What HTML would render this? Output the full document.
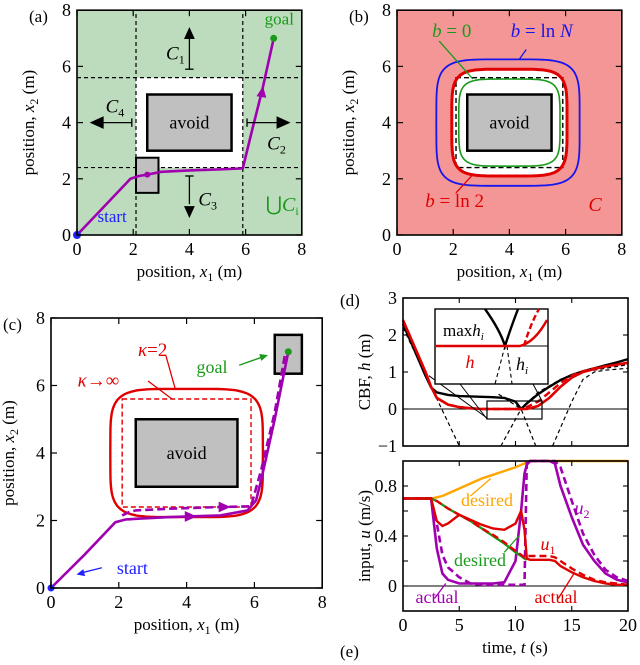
<!DOCTYPE html>
<html><head><meta charset="utf-8"><style>
html,body{margin:0;padding:0;background:#fff;}
svg{display:block;font-family:"Liberation Serif","DejaVu Serif",serif;}
svg text{font-family:"Liberation Serif","DejaVu Serif",serif;}
</style></head><body>
<svg id="fig" width="640" height="665" viewBox="0 0 640 665" xmlns="http://www.w3.org/2000/svg"></svg>
<script>
// ---------- data ----------
const ticks8=[0,2,4,6,8];
const pathA_x=[0,1.0,1.9,2.2,2.5,3.0,4.0,5.0,5.9,6.2,6.6,7.0];
const pathA_y=[0,1.05,2.0,2.1,2.15,2.25,2.3,2.33,2.37,3.6,5.2,7.0];
const pathC_x=[0,1.0,1.9,2.2,2.5,3.5,5.0,5.8,6.05,6.2,6.6,7.0];
const pathC_y=[0,1.0,1.95,2.03,2.05,2.1,2.15,2.3,2.6,3.2,5.0,7.0];
const pathCd_x=[2.1,2.3,2.5,3.5,5.0,5.9,6.2,6.6,6.9];
const pathCd_y=[2.15,2.25,2.3,2.35,2.4,2.42,3.5,5.2,6.9];
// panel d
const tD=[0,1,2,2.5,3,4,5,6,7,8,9,10,10.5,11,12,13,14,15,16,17,18,19,20];
const hMax=[2.3,1.6,0.9,0.58,0.45,0.38,0.35,0.34,0.33,0.32,0.3,0.2,0.0,0.15,0.4,0.6,0.78,0.92,1.02,1.1,1.18,1.26,1.35];
const hRed=[2.4,1.7,1.0,0.6,0.3,0.12,0.05,0.02,0.0,0.0,0.0,0.0,0.0,0.0,0.08,0.3,0.6,0.85,1.0,1.08,1.15,1.2,1.25];
const hRedD=[2.4,1.7,1.0,0.6,0.3,0.12,0.05,0.02,0.0,0.0,0.0,0.0,0.0,0.05,0.2,0.45,0.7,0.9,1.02,1.1,1.15,1.2,1.25];
const hi1_t=[0,5.0], hi1_v=[2.2,-1];
const hi2_t=[8.7,10.5,12,14,16,18,20], hi2_v=[-1,0,0.45,0.8,1.0,1.1,1.2];
const hi3_t=[8.5,10.5,11.8], hi3_v=[0.4,0,-1];
const hi4_t=[13.3,15,16,17,18,20], hi4_v=[-1,0.2,0.8,1.0,1.05,1.1];
// panel e
const tE=[0,2.5,3,3.5,4,5,6,7,8,9,10,10.5,10.8,11,11.3,12,13,13.5,14,15,16,17,18,19,20];
const u2des=[0.7,0.7,0.71,0.72,0.74,0.78,0.82,0.86,0.89,0.92,0.95,0.97,0.98,0.99,1.0,1.0,1.0,1.0,1.0,1.0,1.0,1.0,1.0,1.0,1.0];
const u1des=[0.7,0.7,0.68,0.65,0.62,0.57,0.52,0.46,0.4,0.34,0.27,0.24,0.22,0.21,0.21,0.21,0.21,0.21,0.21,0.21,0.21,0.21,0.21,0.21,0.21];
const u1act=[0.7,0.7,0.52,0.48,0.5,0.57,0.53,0.49,0.46,0.45,0.5,0.6,0.45,0.22,0.21,0.21,0.21,0.2,0.16,0.11,0.07,0.04,0.02,0.01,0.01];
const u1actD=[0.7,0.7,0.68,0.65,0.62,0.57,0.52,0.46,0.41,0.35,0.28,0.25,0.23,0.24,0.24,0.24,0.24,0.23,0.2,0.14,0.09,0.05,0.03,0.02,0.01];
const u2act=[0.7,0.7,0.3,0.1,0.05,0.02,0.02,0.02,0.02,0.03,0.2,0.6,0.9,0.97,1.0,1.0,1.0,0.98,0.8,0.55,0.33,0.2,0.1,0.05,0.03];
const u2actD=[0.7,0.7,0.5,0.25,0.15,0.07,0.02,0.01,0.01,0.01,0.01,0.01,0.01,1.0,1.0,1.0,1.0,1.0,0.95,0.68,0.42,0.25,0.13,0.07,0.04];

// ---------- helpers ----------
const NS="http://www.w3.org/2000/svg";
const svg=document.getElementById('fig');
function el(tag,attrs,parent){const e=document.createElementNS(NS,tag);for(const k in attrs)e.setAttribute(k,attrs[k]);(parent||svg).appendChild(e);return e;}
function txt(x,y,s,size,fill,anchor,extra){const t=el('text',Object.assign({x:x,y:y,'font-size':size,fill:fill||'#000','text-anchor':anchor||'middle','font-family':'Liberation Serif, DejaVu Serif, serif'},extra||{}));t.innerHTML=s;return t;}
function poly(xs,ys,X,Y){return xs.map((v,i)=>(i?'L':'M')+X(v).toFixed(1)+','+Y(ys[i]).toFixed(1)).join('');}
function superE(cx,cy,a,b,n,X,Y){let d='';for(let i=0;i<=120;i++){const th=i/120*2*Math.PI;const c=Math.cos(th),s=Math.sin(th);const x=cx+a*Math.sign(c)*Math.pow(Math.abs(c),2/n);const y=cy+b*Math.sign(s)*Math.pow(Math.abs(s),2/n);d+=(i?'L':'M')+X(x).toFixed(1)+','+Y(y).toFixed(1);}return d+'Z';}
function frame(x0,y0,x1,y1,name){const r=el('rect',{x:x0,y:y0,width:x1-x0,height:y1-y0,fill:'none',stroke:'#000','stroke-width':1.6});}
function posAxes(X,Y,x0,y0,x1,y1,lbl,xlab,ylabX){
  ticks8.forEach(v=>{
    el('line',{x1:X(v),y1:y1,x2:X(v),y2:y1-6,stroke:'#000','stroke-width':1.2});
    el('line',{x1:X(v),y1:y0,x2:X(v),y2:y0+6,stroke:'#000','stroke-width':1.2});
    el('line',{x1:x0,y1:Y(v),x2:x0+6,y2:Y(v),stroke:'#000','stroke-width':1.2});
    el('line',{x1:x1,y1:Y(v),x2:x1-6,y2:Y(v),stroke:'#000','stroke-width':1.2});
    const a=txt(X(v),y1+20,String(v),18);
    const b=txt(x0-6,Y(v)+6,String(v),18,'#000','end');
  });
  frame(x0,y0,x1,y1,'plot-frame');
  if(xlab){const t=txt((x0+x1)/2,y1+42,'position, <tspan font-style="italic">x</tspan><tspan font-size="12" dy="4">1</tspan><tspan dy="-4"> (m)</tspan>',17);}
  const cy=(y0+y1)/2;const t=txt(ylabX,cy,'position, <tspan font-style="italic">x</tspan><tspan font-size="12" dy="4">2</tspan><tspan dy="-4"> (m)</tspan>',17,'#000','middle',{transform:`rotate(-90 ${ylabX} ${cy})`});
  const p=txt(x0-48,y0+12,lbl,17,'#000','start');
}
function arrowHead(x,y,ang,size,color){const s=size||8;const a=ang;const p=[[x,y],[x-s*Math.cos(a)+s*0.45*Math.sin(a),y-s*Math.sin(a)-s*0.45*Math.cos(a)],[x-s*Math.cos(a)-s*0.45*Math.sin(a),y-s*Math.sin(a)+s*0.45*Math.cos(a)]];return el('polygon',{points:p.map(q=>q.join(',')).join(' '),fill:color||'#000'});}

// ================= Panel (a) =================
{
const X=v=>77+v*28.1, Y=v=>235-v*28.1;
const g=el('g',{});
el('rect',{x:X(0),y:Y(8),width:X(8)-X(0),height:Y(0)-Y(8),fill:'#bddcbd'},g);
el('rect',{x:X(2.1),y:Y(5.6),width:X(5.9)-X(2.1),height:Y(2.4)-Y(5.6),fill:'#fff'},g);
[2.1,5.9].forEach(v=>el('line',{x1:X(v),y1:Y(0),x2:X(v),y2:Y(8),stroke:'#000','stroke-width':1.2,'stroke-dasharray':'4,3'},g));
[2.4,5.6].forEach(v=>el('line',{x1:X(0),y1:Y(v),x2:X(8),y2:Y(v),stroke:'#000','stroke-width':1.2,'stroke-dasharray':'4,3'},g));
const av=el('rect',{x:X(2.5),y:Y(5),width:X(5.5)-X(2.5),height:Y(3)-Y(5),fill:'#c0c0c0',stroke:'#000','stroke-width':2.5},g);
txt(X(4),Y(4)+6,'avoid',18);
el('rect',{x:X(2.1),y:Y(2.75),width:X(2.9)-X(2.1),height:Y(1.5)-Y(2.75),fill:'#c0c0c0',stroke:'#000','stroke-width':2},g);
el('line',{x1:X(4),y1:Y(5.9),x2:X(4),y2:Y(7.0),stroke:'#000','stroke-width':1.3});arrowHead(X(4),Y(7.4),-Math.PI/2,12);
el('line',{x1:X(3.85),y1:Y(5.9),x2:X(4.15),y2:Y(5.9),stroke:'#000','stroke-width':1.3});
el('line',{x1:X(6.05),y1:Y(4),x2:X(7.1),y2:Y(4),stroke:'#000','stroke-width':1.3});arrowHead(X(7.6),Y(4),0,14);
el('line',{x1:X(6.05),y1:Y(4.15),x2:X(6.05),y2:Y(3.85),stroke:'#000','stroke-width':1.3});
el('line',{x1:X(4),y1:Y(2.1),x2:X(4),y2:Y(1.1),stroke:'#000','stroke-width':1.3});arrowHead(X(4),Y(0.6),Math.PI/2,12);
el('line',{x1:X(3.85),y1:Y(2.1),x2:X(4.15),y2:Y(2.1),stroke:'#000','stroke-width':1.3});
el('line',{x1:X(1.95),y1:Y(4),x2:X(0.9),y2:Y(4),stroke:'#000','stroke-width':1.3});arrowHead(X(0.45),Y(4),Math.PI,14);
el('line',{x1:X(1.95),y1:Y(4.15),x2:X(1.95),y2:Y(3.85),stroke:'#000','stroke-width':1.3});
const cl=(x,y,s)=>txt(x,y,'<tspan font-style="italic">C</tspan><tspan font-size="12" dy="4">'+s+'</tspan>',19);
cl(X(3.5),Y(6.5)+7,'1');cl(X(7.1),Y(3.3)+7,'2');cl(X(4.65),Y(1.3)+7,'3');cl(X(1.35),Y(4.6)+7,'4');
txt(X(7.3),Y(1.1)+7,'⋃<tspan font-style="italic">C</tspan><tspan font-size="12" dy="4">i</tspan>',20,'#1a9a1a');
const p=el('path',{d:poly(pathA_x,pathA_y,X,Y),fill:'none',stroke:'#a000b0','stroke-width':2.6},g);
arrowHead(X(6.62),Y(5.3),-1.42,11,'#a000b0');
el('circle',{cx:X(2.5),cy:Y(2.15),r:3,fill:'#a000b0'});
el('circle',{cx:X(0),cy:Y(0),r:4,fill:'#2020ff'});
el('circle',{cx:X(7),cy:Y(7),r:3.5,fill:'#1a9a1a'});
txt(X(7.2),Y(7.35)-4,'goal',17,'#1a9a1a');
txt(X(1.25),Y(0.6)+4,'start',17,'#2020ff');
posAxes(X,Y,X(0),Y(8),X(8),Y(0),'(a)',true,34);
}

// ================= Panel (b) =================
{
const X=v=>397+v*28.1, Y=v=>235-v*28.1;
el('rect',{x:X(0),y:Y(8),width:X(8)-X(0),height:Y(0)-Y(8),fill:'#f59696'});
el('path',{d:superE(4,4,2.05,1.9,5,X,Y),fill:'#fff'});
const bl=el('path',{d:superE(3.95,4,2.55,2.25,5,X,Y),fill:'none',stroke:'#1515ee','stroke-width':1.8});
el('rect',{x:X(2.1),y:Y(5.6),width:X(5.9)-X(2.1),height:Y(2.4)-Y(5.6),fill:'none',stroke:'#000','stroke-width':1.4,'stroke-dasharray':'5,3'});
const rd=el('path',{d:superE(4,4,2.05,1.9,5,X,Y),fill:'none',stroke:'#e00000','stroke-width':3});
const gr=el('path',{d:superE(4,4,1.8,1.55,5,X,Y),fill:'none',stroke:'#1a9a1a','stroke-width':1.6});
el('rect',{x:X(2.5),y:Y(5),width:X(5.5)-X(2.5),height:Y(3)-Y(5),fill:'#c0c0c0',stroke:'#000','stroke-width':2.5});
txt(X(4),Y(4)+6,'avoid',18);
el('line',{x1:X(1.5),y1:Y(6.9),x2:X(2.7),y2:Y(5.55),stroke:'#1a9a1a','stroke-width':1.3});
el('line',{x1:X(4.6),y1:Y(6.6),x2:X(4.35),y2:Y(6.25),stroke:'#1515ee','stroke-width':1.3});
el('line',{x1:X(2.1),y1:Y(1.5),x2:X(2.7),y2:Y(2.15),stroke:'#e00000','stroke-width':1.3});
txt(X(1.95),Y(7.05),'<tspan font-style="italic">b</tspan> = 0',19,'#1a9a1a');
txt(X(5.15),Y(7.05),'<tspan font-style="italic">b</tspan> = ln <tspan font-style="italic">N</tspan>',19,'#1515ee');
txt(X(2.05),Y(1.0),'<tspan font-style="italic">b</tspan> = ln 2',19,'#e00000');
txt(X(7.05),Y(0.85),'<tspan font-style="italic">C</tspan>',20,'#e00000');
posAxes(X,Y,X(0),Y(8),X(8),Y(0),'(b)',true,354);
}

// ================= Panel (c) =================
{
const X=v=>51+v*33.9, Y=v=>588-v*33.75;
el('rect',{x:X(2.5),y:Y(5),width:X(5.5)-X(2.5),height:Y(3)-Y(5),fill:'#c0c0c0',stroke:'#000','stroke-width':2.5});
txt(X(4),Y(4)+6,'avoid',18);
el('rect',{x:X(6.6),y:Y(7.5),width:X(7.4)-X(6.6),height:Y(6.35)-Y(7.5),fill:'#c0c0c0',stroke:'#000','stroke-width':2.5});
const rs=el('path',{d:superE(4,4,2.25,1.9,5,X,Y),fill:'none',stroke:'#e00000','stroke-width':2.4});
el('rect',{x:X(2.1),y:Y(5.6),width:X(5.9)-X(2.1),height:Y(2.4)-Y(5.6),fill:'none',stroke:'#e00000','stroke-width':1.4,'stroke-dasharray':'5,3'});
const pc=el('path',{d:poly(pathC_x,pathC_y,X,Y),fill:'none',stroke:'#a000b0','stroke-width':2.6});
const pd=el('path',{d:poly(pathCd_x,pathCd_y,X,Y),fill:'none',stroke:'#a000b0','stroke-width':2.6,'stroke-dasharray':'8,4'});
arrowHead(X(4.3),Y(2.12),0,12,'#a000b0');arrowHead(X(5.3),Y(2.4),0,12,'#a000b0');
el('circle',{cx:X(0),cy:Y(0),r:3.5,fill:'#2020ff'});
el('circle',{cx:X(7),cy:Y(7),r:3.5,fill:'#1a9a1a'});
el('line',{x1:166,y1:356,x2:175,y2:388,stroke:'#e00000','stroke-width':1.3});
el('line',{x1:148,y1:381,x2:172,y2:399,stroke:'#e00000','stroke-width':1.3});
txt(X(3.0),Y(7.05)+6,'<tspan font-style="italic">κ</tspan>=2',19,'#e00000');
txt(X(1.4),Y(6.15)+6,'<tspan font-style="italic">κ</tspan>→∞',19,'#e00000');
el('line',{x1:X(5.55),y1:Y(6.6),x2:X(6.25),y2:Y(6.85),stroke:'#1a9a1a','stroke-width':1.4});arrowHead(X(6.4),Y(6.9),-0.3,8,'#1a9a1a');
txt(X(4.75),Y(6.55)+6,'goal',18,'#1a9a1a');
el('line',{x1:X(1.5),y1:Y(0.6),x2:X(0.9),y2:Y(0.45),stroke:'#2020ff','stroke-width':1.4});arrowHead(X(0.75),Y(0.4),2.9,8,'#2020ff');
txt(X(2.4),Y(0.6)+6,'start',18,'#2020ff');
posAxes(X,Y,X(0),Y(8),X(8),Y(0),'(c)',true,14);
}

// ================= Panel (d) =================
{
const X=t=>403+t*11.25, Y=v=>409-v*37;
const x0=X(0),x1=X(20),y0=Y(3),y1=Y(-1);
el('line',{x1:x0,y1:Y(0),x2:x1,y2:Y(0),stroke:'#000','stroke-width':1.1});
[[hi1_t,hi1_v],[hi2_t,hi2_v],[hi3_t,hi3_v],[hi4_t,hi4_v]].forEach(s=>{const p=el('path',{d:poly(s[0],s[1],X,Y),fill:'none',stroke:'#000','stroke-width':1.2,'stroke-dasharray':'4,3'});});
const k=el('path',{d:poly(tD,hMax,X,Y),fill:'none',stroke:'#000','stroke-width':2.4});
const r2=el('path',{d:poly(tD,hRedD,X,Y),fill:'none',stroke:'#e00000','stroke-width':2.4,'stroke-dasharray':'7,4'});
const r=el('path',{d:poly(tD,hRed,X,Y),fill:'none',stroke:'#e00000','stroke-width':2.6});
el('line',{x1:X(2.3),y1:Y(0.9),x2:X(7.5),y2:Y(-0.25),stroke:'#000','stroke-width':1});
el('rect',{x:487,y:401,width:55,height:18,fill:'none',stroke:'#000','stroke-width':1.2});
el('line',{x1:460,y1:384,x2:487,y2:419,stroke:'#000','stroke-width':1});
el('line',{x1:533,y1:384,x2:542,y2:401,stroke:'#000','stroke-width':1});
const ins=el('rect',{x:435,y:309,width:113,height:75,fill:'#fff',stroke:'#000','stroke-width':1.4});
el('line',{x1:435,y1:346,x2:548,y2:346,stroke:'#000','stroke-width':1.1});
el('path',{d:'M505,346 L495,384 M507,346 L512,384',stroke:'#000','stroke-width':1.1,'stroke-dasharray':'4,3',fill:'none'});
el('path',{d:'M485,309 Q500,330 505,346 Q510,330 518,309',stroke:'#000','stroke-width':2.4,fill:'none'});
el('path',{d:'M524,346 Q530,325 539,309',stroke:'#e00000','stroke-width':2.4,fill:'none','stroke-dasharray':'6,3'});
el('path',{d:'M435,346 L520,346 Q535,342 547,320',stroke:'#e00000','stroke-width':2.4,fill:'none'});
txt(443,336,'max<tspan font-style="italic">h</tspan><tspan font-size="11" dy="4" font-style="italic">i</tspan>',17,'#000','start');
txt(470,368,'<tspan font-style="italic">h</tspan>',18,'#e00000');
txt(522,370,'<tspan font-style="italic">h</tspan><tspan font-size="11" dy="4" font-style="italic">i</tspan>',18);
[5,10,15].forEach(t=>{el('line',{x1:X(t),y1:y1,x2:X(t),y2:y1-5,stroke:'#000','stroke-width':1.1});el('line',{x1:X(t),y1:y0,x2:X(t),y2:y0+5,stroke:'#000','stroke-width':1.1});});
[3,2,1,0,-1].forEach(v=>{el('line',{x1:x0,y1:Y(v),x2:x0+5,y2:Y(v),stroke:'#000','stroke-width':1.1});el('line',{x1:x1,y1:Y(v),x2:x1-5,y2:Y(v),stroke:'#000','stroke-width':1.1});
 const l=txt(x0-6,Y(v)+6,v<0?'−'+Math.abs(v):String(v),18,'#000','end');});
frame(x0,y0,x1,y1,'cbf-plot-frame');
const yt=txt(370,372,'CBF, <tspan font-style="italic">h</tspan> (m)',17,'#000','middle',{transform:'rotate(-90 370 372)'});
txt(340,306,'(d)',17,'#000','start');
}

// ================= Panel (e) =================
{
const X=t=>403+t*11.25, Y=v=>586-v*125;
const x0=X(0),x1=X(20),y0=Y(1.0),y1=Y(-0.2);
el('line',{x1:x0,y1:Y(0),x2:x1,y2:Y(0),stroke:'#000','stroke-width':1.1});
const od=el('path',{d:poly(tE,u2des,X,Y),fill:'none',stroke:'#ffa500','stroke-width':2.4});
const pu=el('path',{d:poly(tE,u2act,X,Y),fill:'none',stroke:'#a000b0','stroke-width':2.6});
const pud=el('path',{d:poly(tE,u2actD,X,Y),fill:'none',stroke:'#a000b0','stroke-width':2.6,'stroke-dasharray':'7,4'});
const gd=el('path',{d:poly(tE.slice(0,14),u1des.slice(0,14),X,Y),fill:'none',stroke:'#1a9a1a','stroke-width':2.4});
const rd=el('path',{d:poly(tE,u1actD,X,Y),fill:'none',stroke:'#e00000','stroke-width':2.4,'stroke-dasharray':'7,4'});
const ra=el('path',{d:poly(tE,u1act,X,Y),fill:'none',stroke:'#e00000','stroke-width':2.4});
el('line',{x1:X(6),y1:Y(0.72),x2:X(7.8),y2:Y(0.86),stroke:'#ffa500','stroke-width':1.3});
el('line',{x1:X(9),y1:Y(0.27),x2:X(10.3),y2:Y(0.4),stroke:'#1a9a1a','stroke-width':1.3});
el('line',{x1:X(2.8),y1:Y(-0.1),x2:X(3.8),y2:Y(0.02),stroke:'#a000b0','stroke-width':1.3});
el('line',{x1:X(13.8),y1:Y(-0.1),x2:X(15.2),y2:Y(0.1),stroke:'#e00000','stroke-width':1.3});
txt(487,506,'desired',18,'#ffa500');
txt(480,566,'desired',18,'#1a9a1a');
txt(437,603,'actual',18,'#a000b0');
txt(556,603,'actual',18,'#e00000');
txt(582,514,'<tspan font-style="italic">u</tspan><tspan font-size="12" dy="4">2</tspan>',18,'#a000b0');
txt(548,550,'<tspan font-style="italic">u</tspan><tspan font-size="12" dy="4">1</tspan>',18,'#e00000');
[5,10,15].forEach(t=>{el('line',{x1:X(t),y1:y1,x2:X(t),y2:y1-5,stroke:'#000','stroke-width':1.1});el('line',{x1:X(t),y1:y0,x2:X(t),y2:y0+5,stroke:'#000','stroke-width':1.1});});
[0,0.2,0.4,0.6,0.8].forEach(v=>{el('line',{x1:x0,y1:Y(v),x2:x0+5,y2:Y(v),stroke:'#000','stroke-width':1.1});el('line',{x1:x1,y1:Y(v),x2:x1-5,y2:Y(v),stroke:'#000','stroke-width':1.1});});
[0,0.4,0.8].forEach(v=>{const l=txt(x0-6,Y(v)+6,String(v),18,'#000','end');});
[0,5,10,15,20].forEach(t=>{const l=txt(X(t),y1+20,String(t),18);});
frame(x0,y0,x1,y1,'input-plot-frame');
const yt=txt(370,536,'input, <tspan font-style="italic">u</tspan> (m/s)',17,'#000','middle',{transform:'rotate(-90 370 536)'});
const xt=txt(515,653,'time, <tspan font-style="italic">t</tspan> (s)',17);
txt(340,657,'(e)',17,'#000','start');
}
</script>
</body></html>
